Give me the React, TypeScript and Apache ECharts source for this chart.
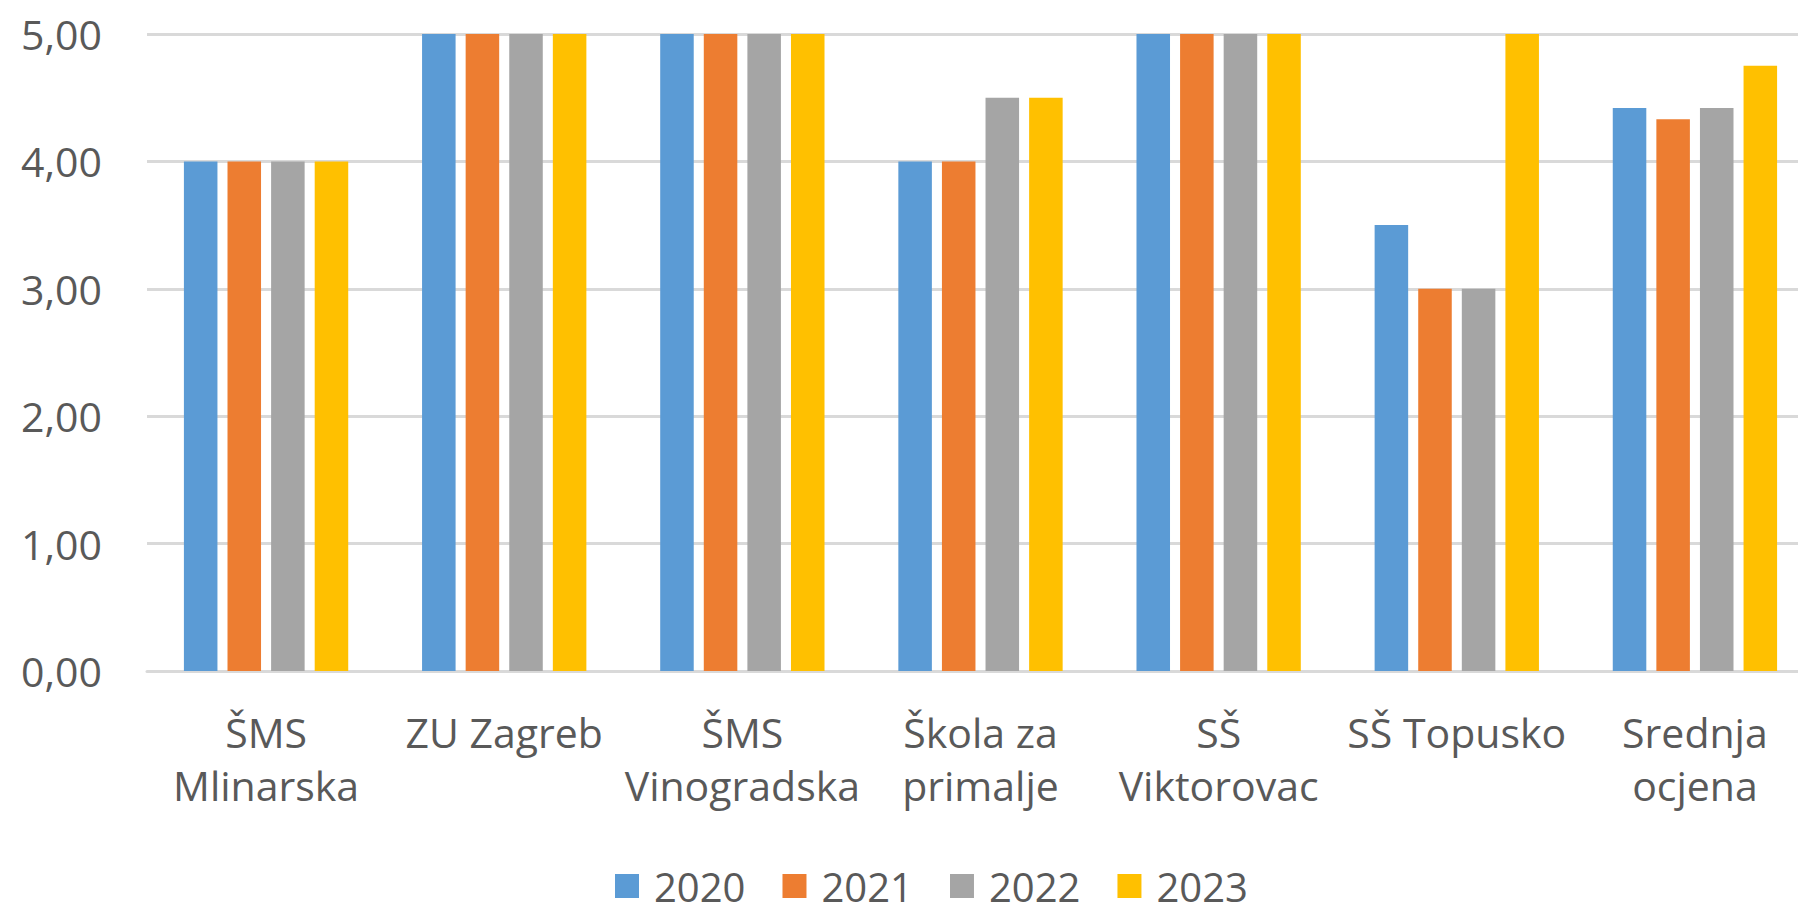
import React, { useEffect, useRef } from "react";
import * as echarts from "echarts";

const categories = [
  "ŠMS\nMlinarska",
  "ZU Zagreb",
  "ŠMS\nVinogradska",
  "Škola za\nprimalje",
  "SŠ\nViktorovac",
  "SŠ Topusko",
  "Srednja\nocjena",
];
const seriesNames = ["2020", "2021", "2022", "2023"];
const s2020 = [4, 5, 5, 4, 5, 3.5, 4.42];
const s2021 = [4, 5, 5, 4, 5, 3, 4.33];
const s2022 = [4, 5, 5, 4.5, 5, 3, 4.42];
const s2023 = [4, 5, 5, 4.5, 5, 5, 4.75];
const colors = ["#5b9bd5", "#ed7d31", "#a5a5a5", "#ffc000"];
const yTicks = [0, 1, 2, 3, 4, 5];

export default function App() {
  const ref = useRef<HTMLDivElement>(null);
  useEffect(() => {
    if (!ref.current) return;
    const chart = echarts.init(ref.current, null, { renderer: "svg" });
    const data = [s2020, s2021, s2022, s2023];
    const font = "'Open Sans', 'Noto Sans', sans-serif";
    chart.setOption({
      animation: false,
      textStyle: { fontFamily: font },
      grid: { left: 147, right: 0, top: 34, bottom: 243 },
      legend: {
        data: seriesNames,
        top: 866,
        left: 615,
        padding: 0,
        itemWidth: 24,
        itemHeight: 24,
        itemGap: 37,
        icon: "rect",
        textStyle: {
          fontSize: 40,
          lineHeight: 40,
          color: "#595959",
          fontFamily: font,
          padding: [0, 0, 0, 10],
        },
      },
      xAxis: {
        type: "category",
        data: categories,
        axisLine: { lineStyle: { color: "#d9d9d9", width: 3 } },
        axisTick: { show: false },
        axisLabel: {
          color: "#595959",
          fontSize: 41,
          lineHeight: 53,
          margin: 34,
          interval: 0,
          fontFamily: font,
        },
      },
      yAxis: {
        type: "value",
        min: yTicks[0],
        max: yTicks[yTicks.length - 1],
        interval: 1,
        axisLine: { show: false },
        axisTick: { show: false },
        splitLine: { lineStyle: { color: "#d9d9d9", width: 3 } },
        axisLabel: {
          color: "#595959",
          fontSize: 41,
          margin: 45,
          fontFamily: font,
          formatter: (v: number) => v.toFixed(2).replace(".", ","),
        },
      },
      series: seriesNames.map((name, i) => ({
        name,
        type: "bar",
        data: data[i],
        itemStyle: { color: colors[i] },
        barGap: "30%",
        barCategoryGap: "31%",
      })),
    });
    return () => chart.dispose();
  }, []);
  return (
    <div
      style={{
        position: "absolute",
        left: 0,
        top: 0,
        width: 1798,
        height: 914,
        overflow: "hidden",
      }}
    >
      <div ref={ref} style={{ width: 1814, height: 914 }} />
    </div>
  );
}
